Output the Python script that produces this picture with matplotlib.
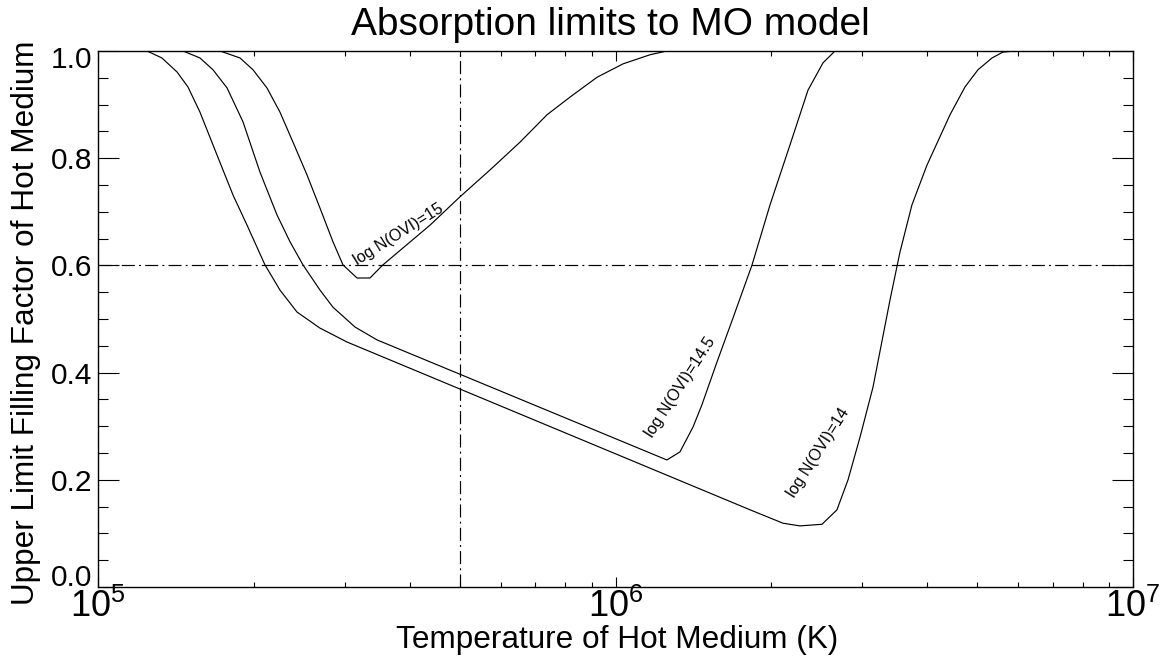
import numpy as np
import matplotlib
matplotlib.use("Agg")
import matplotlib.pyplot as plt
from matplotlib.ticker import FixedLocator, FuncFormatter, MultipleLocator, LogLocator, NullFormatter
from matplotlib.transforms import ScaledTranslation

plt.rcParams['font.family'] = ['Liberation Sans', 'DejaVu Sans']
plt.rcParams['mathtext.fontset'] = 'custom'
plt.rcParams['mathtext.rm'] = 'Liberation Sans'
plt.rcParams['mathtext.it'] = 'Liberation Sans:italic'
plt.rcParams['mathtext.bf'] = 'Liberation Sans:bold'
plt.rcParams['lines.scale_dashes'] = False

# ---------------- data ----------------
title = "Absorption limits to MO model"
xlabel = "Temperature of Hot Medium (K)"
ylabel = "Upper Limit Filling Factor of Hot Medium"

# log N(OVI)=14
T_14 = [1.0e5, 1.244e5, 1.329e5, 1.421e5, 1.492e5, 1.574e5, 1.698e5, 1.824e5, 1.941e5,
        2.102e5, 2.247e5, 2.424e5, 2.685e5, 3.029e5, 1.820e6, 2.107e6, 2.272e6, 2.506e6,
        2.679e6, 2.814e6, 2.969e6, 3.145e6, 3.391e6, 3.546e6, 3.740e6, 3.998e6, 4.430e6,
        4.736e6, 5.017e6, 5.340e6, 5.608e6, 5.916e6, 1.0e7]
f_14 = [1.0, 1.0, 0.987, 0.961, 0.933, 0.886, 0.806, 0.731, 0.675,
        0.601, 0.554, 0.513, 0.483, 0.457, 0.144, 0.119, 0.114, 0.117,
        0.144, 0.200, 0.280, 0.373, 0.535, 0.625, 0.713, 0.787, 0.881,
        0.933, 0.965, 0.987, 0.998, 1.0, 1.0]

# log N(OVI)=14.5
T_145 = [1.0e5, 1.460e5, 1.574e5, 1.668e5, 1.776e5, 1.906e5, 2.056e5, 2.218e5, 2.350e5,
         2.489e5, 2.685e5, 2.845e5, 3.138e5, 3.461e5, 1.257e6, 1.332e6, 1.412e6, 1.469e6,
         1.571e6, 1.687e6, 1.836e6, 1.989e6, 2.174e6, 2.355e6, 2.518e6, 2.656e6, 1.0e7]
f_145 = [1.0, 1.0, 0.987, 0.965, 0.931, 0.868, 0.774, 0.694, 0.644,
         0.601, 0.554, 0.522, 0.485, 0.461, 0.237, 0.252, 0.2985, 0.340,
         0.420, 0.502, 0.601, 0.713, 0.825, 0.927, 0.978, 1.0, 1.0]

# log N(OVI)=15
T_15 = [1.0e5, 1.721e5, 1.881e5, 1.993e5, 2.121e5, 2.247e5, 2.381e5, 2.534e5, 2.685e5,
        2.845e5, 2.974e5, 3.166e5, 3.354e5, 3.553e5, 4.380e5, 5.006e5, 5.720e5, 6.540e5,
        7.373e5, 8.168e5, 9.211e5, 1.034e6, 1.166e6, 1.257e6, 1.0e7]
f_15 = [1.0, 1.0, 0.987, 0.965, 0.931, 0.886, 0.830, 0.769, 0.707,
        0.644, 0.601, 0.5765, 0.5765, 0.601, 0.675, 0.728, 0.778, 0.830,
        0.881, 0.914, 0.951, 0.976, 0.993, 1.0, 1.0]

curve_labels = ["log N(OVI)=14", "log N(OVI)=14.5", "log N(OVI)=15"]
label_T = [2.462e6, 1.332e6, 3.815e5]
label_f = [0.250, 0.373, 0.657]
label_rot = [57.5, 57.0, 32.0]

T_ref = 5.0e5
f_ref = 0.6

x_major = [1e5, 1e6, 1e7]
y_major = [0.0, 0.2, 0.4, 0.6, 0.8, 1.0]

# ---------------- figure ----------------
W, H = 1170, 660
fig = plt.figure(figsize=(W / 100, H / 100), dpi=100)
L, R, B, Tp = 98, 1133, 587, 51
ax = fig.add_axes([L / W, 1 - B / H, (R - L) / W, (B - Tp) / H])

lw = 0.85
for T, f in [(T_14, f_14), (T_145, f_145), (T_15, f_15)]:
    ax.plot(T, f, color='black', lw=lw)

dd = (0, (9.4, 3.0, 1.4, 3.0))
ax.axhline(f_ref, color='black', lw=lw, ls=dd)
ax.axvline(T_ref, color='black', lw=lw, ls=dd)

for s, xt, yt, r in zip(curve_labels, label_T, label_f, label_rot):
    ax.text(xt, yt, s, rotation=r, rotation_mode='anchor', ha='center', va='center',
            fontsize=11.5, color='black')

ax.set_xscale('log')
ax.set_xlim(1e5, 1e7)
ax.set_ylim(0.0, 1.0)

ax.xaxis.set_major_locator(FixedLocator(x_major))
ax.xaxis.set_minor_locator(LogLocator(base=10, subs=np.arange(2, 10)))
ax.xaxis.set_minor_formatter(NullFormatter())
ax.xaxis.set_major_formatter(FuncFormatter(lambda v, p: r'$\mathregular{10^{%d}}$' % int(round(np.log10(v)))))
ax.yaxis.set_major_locator(FixedLocator(y_major))
ax.yaxis.set_minor_locator(MultipleLocator(0.05))
ax.yaxis.set_major_formatter(FuncFormatter(lambda v, p: '%.1f' % v))

ax.tick_params(axis='x', which='major', direction='in', length=7.5, width=0.8,
               top=True, bottom=True, labelsize=26, pad=1.5)
ax.tick_params(axis='x', which='minor', direction='in', length=3.6, width=0.8,
               top=True, bottom=True)
ax.tick_params(axis='y', which='major', direction='in', length=15, width=0.8,
               left=True, right=True, labelsize=21.5, pad=4.3)
ax.tick_params(axis='y', which='minor', direction='in', length=7.2, width=0.8,
               left=True, right=True)

for sp in ax.spines.values():
    sp.set_linewidth(1.0)
    sp.set_color('black')

# IDL nudges the end labels inside the axis range
fig.canvas.draw()
ylabs = ax.get_yticklabels()
for lab in ylabs:
    t = lab.get_text()
    if t == '0.0':
        lab.set_transform(lab.get_transform() + ScaledTranslation(0, 12 / 100, fig.dpi_scale_trans))
    elif t == '1.0':
        lab.set_transform(lab.get_transform() + ScaledTranslation(0, -6 / 100, fig.dpi_scale_trans))

fig.text(610 / W, 1 - 35 / H, title, ha='center', va='baseline', fontsize=28)
fig.text(617 / W, 1 - 648 / H, xlabel, ha='center', va='baseline', fontsize=22.7)
fig.text(34 / W, 1 - 323 / H, ylabel, ha='center', va='baseline', fontsize=22.7,
         rotation=90, rotation_mode='anchor')

fig.savefig('out.png', dpi=100, facecolor='white')
